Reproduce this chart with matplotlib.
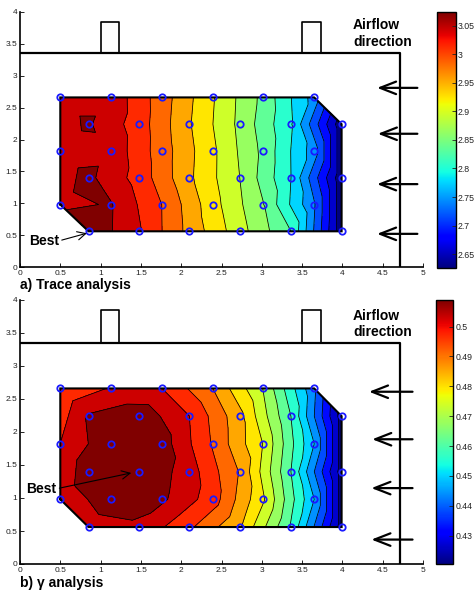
import numpy as np
import matplotlib
matplotlib.use('Agg')
import matplotlib.pyplot as plt
import matplotlib.tri as mtri
from matplotlib.colors import Normalize
from matplotlib.cm import ScalarMappable
from matplotlib.ticker import FuncFormatter, MultipleLocator

plt.rcParams['font.family'] = ['Liberation Sans', 'DejaVu Sans']

# ---------------- data ----------------
row_y = [2.66, 2.24, 1.82, 1.40, 0.98, 0.56]
cols_a = [0.50, 1.13, 1.76, 2.39, 3.01, 3.65]   # rows 2.66, 1.82, 0.98
cols_b = [0.85, 1.48, 2.10, 2.73, 3.36, 3.99]   # rows 2.24, 1.40, 0.56

trace_vals = [
    [3.051, 3.051, 2.985, 2.913, 2.843, 2.749],
    [3.064, 3.015, 2.943, 2.873, 2.794, 2.620],
    [3.048, 3.051, 2.985, 2.916, 2.844, 2.746],
    [3.067, 3.018, 2.946, 2.880, 2.791, 2.620],
    [3.054, 3.062, 3.000, 2.922, 2.853, 2.734],
    [3.084, 3.033, 2.961, 2.892, 2.821, 2.620],
]
gamma_vals = [
    [0.4949, 0.5007, 0.5002, 0.4884, 0.4707, 0.4423],
    [0.5067, 0.5102, 0.5002, 0.4842, 0.4589, 0.4205],
    [0.5002, 0.5108, 0.5090, 0.4937, 0.4766, 0.4471],
    [0.5102, 0.5117, 0.5031, 0.4878, 0.4589, 0.4205],
    [0.5019, 0.5096, 0.5072, 0.4972, 0.4777, 0.4471],
    [0.5031, 0.5049, 0.4954, 0.4830, 0.4583, 0.4205],
]

trace_clim = [2.626, 3.075]
gamma_clim = [0.4205, 0.509]
trace_ticks = [2.65, 2.7, 2.75, 2.8, 2.85, 2.9, 2.95, 3.0, 3.05]
gamma_ticks = [0.43, 0.44, 0.45, 0.46, 0.47, 0.48, 0.49, 0.50]

room_w, room_h = 4.72, 3.35
inlet_x = [(1.00, 1.23), (3.50, 3.73)]
inlet_top = 3.85

trace_arrow_y = [2.81, 2.09, 1.30, 0.52]
gamma_arrow_y = [2.61, 1.89, 1.15, 0.37]

# ---------------- helpers ----------------
def grid_points():
    xs, ys = [], []
    for i, y in enumerate(row_y):
        cols = cols_a if i % 2 == 0 else cols_b
        for x in cols:
            xs.append(x)
            ys.append(y)
    return np.array(xs), np.array(ys)

px, py = grid_points()
tri = mtri.Triangulation(px, py)

outline_x = [cols_a[0], cols_a[0], cols_a[-1], cols_b[-1], cols_b[-1], cols_b[0], cols_a[0]]
outline_y = [row_y[4], row_y[0], row_y[0], row_y[1], row_y[5], row_y[5], row_y[4]]

fmt = FuncFormatter(lambda v, p: ('%g' % round(v, 4)))
W, H = 475, 593


def panel(ax, cax, vals, clim, cticks, arrow_y, head_x, tail_x, best_txt, best_xy,
          label, label_y, text_y):
    z = np.array(vals).ravel()
    norm = Normalize(vmin=clim[0], vmax=clim[1])
    step = (clim[1] - clim[0]) / 15.0
    levels = clim[0] + (np.arange(17) - 0.5) * step
    ax.tricontourf(tri, z, levels=levels, cmap='jet', norm=norm)
    ax.tricontour(tri, z, levels=levels[1:-1], colors='k', linewidths=0.55)
    ax.plot(outline_x, outline_y, color='k', lw=1.5, solid_joinstyle='miter')
    ax.plot(px, py, 'o', mfc='none', mec='#1a1aff', ms=4.6, mew=1.3)

    # room outline and inlets
    ax.plot([0, room_w, room_w], [room_h, room_h, 0], color='k', lw=1.6)
    for (x0, x1) in inlet_x:
        ax.plot([x0, x0, x1, x1, x0], [room_h, inlet_top, inlet_top, room_h, room_h],
                color='k', lw=1.2)

    # airflow arrows
    for y, hx in zip(arrow_y, head_x):
        ax.annotate('', xy=(hx, y), xytext=(tail_x, y),
                    arrowprops=dict(arrowstyle='->,head_length=1.15,head_width=0.45',
                                    lw=1.6, color='k', shrinkA=0, shrinkB=0),
                    annotation_clip=False)
    ax.text(4.13, text_y[0], 'Airflow', fontsize=10, fontweight='bold', va='center', ha='left')
    ax.text(4.13, text_y[1], 'direction', fontsize=10, fontweight='bold', va='center', ha='left')

    ax.annotate('Best', xy=best_xy, xytext=best_txt, fontsize=10, fontweight='bold',
                va='center', ha='left',
                arrowprops=dict(arrowstyle='->,head_length=0.6,head_width=0.3',
                                lw=0.8, color='k', shrinkA=0, shrinkB=0,
                                relpos=(1.0, 0.5)))

    ax.set_xlim(0, 5)
    ax.set_ylim(0, 4)
    for s in ['top', 'right']:
        ax.spines[s].set_visible(False)
    for s in ['left', 'bottom']:
        ax.spines[s].set_linewidth(1.2)
    ax.xaxis.set_major_locator(MultipleLocator(0.5))
    ax.yaxis.set_major_locator(MultipleLocator(0.5))
    ax.xaxis.set_major_formatter(fmt)
    ax.yaxis.set_major_formatter(fmt)
    ax.tick_params(direction='in', length=3, width=0.7, labelsize=6, colors='#222222', pad=2)

    sm = ScalarMappable(norm=norm, cmap='jet')
    cb = plt.colorbar(sm, cax=cax, ticks=cticks, format=fmt)
    cb.outline.set_linewidth(1.0)
    cax.tick_params(direction='in', length=3, width=0.6, labelsize=6.3, pad=1.5, colors='#222222')

    fig.text(20 / W, 1 - label_y / H, label, fontsize=10, fontweight='bold', va='center', ha='left')


fig = plt.figure(figsize=(W / 100, H / 100), dpi=100)
ax1 = fig.add_axes([20 / W, 1 - 267 / H, 403 / W, 255 / H])
cax1 = fig.add_axes([437 / W, 1 - 267.7 / H, 18.5 / W, 256 / H])
ax2 = fig.add_axes([20 / W, 1 - 564 / H, 403 / W, 264 / H])
cax2 = fig.add_axes([435.7 / W, 1 - 564 / H, 17.6 / W, 264.3 / H])

panel(ax1, cax1, trace_vals, trace_clim, trace_ticks, trace_arrow_y,
      [4.43, 4.44, 4.43, 4.43], 4.93, (0.11, 0.41), (0.83, 0.53),
      'a) Trace analysis', 285, (3.80, 3.53))
panel(ax2, cax2, gamma_vals, gamma_clim, gamma_ticks, gamma_arrow_y,
      [4.33, 4.37, 4.36, 4.36], 4.87, (0.08, 1.14), (1.38, 1.38),
      'b) \u03b3 analysis', 583, (3.75, 3.52))

fig.savefig('out.png', dpi=100)
